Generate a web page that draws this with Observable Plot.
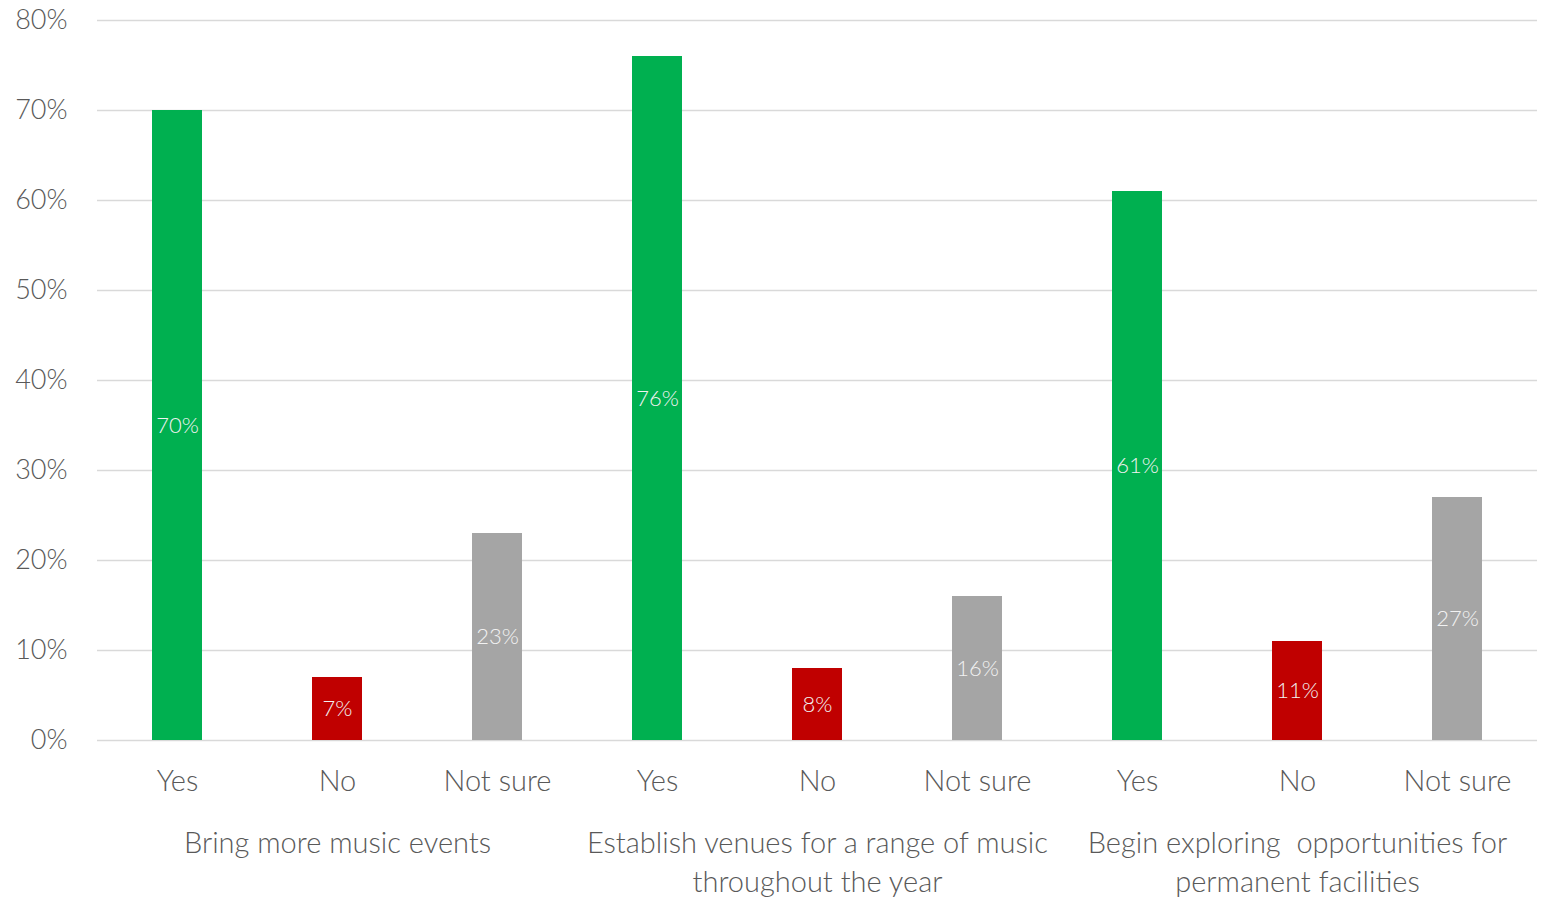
<!DOCTYPE html>
<html>
<head>
<meta charset="utf-8">
<script src="https://cdn.jsdelivr.net/npm/d3@7"></script>
<script src="https://cdn.jsdelivr.net/npm/@observablehq/plot@0.6"></script>
<style>
  html, body { margin: 0; padding: 0; background: #fff; }
  #chart svg { display: block; }
</style>
</head>
<body>
<div id="chart"></div>
<script>
// Survey proposals and the share of respondents for each answer
const groups = [
  "Bring more music events",
  "Establish venues for a range of music\nthroughout the year",
  "Begin exploring  opportunities for\npermanent facilities"
];
const answers = ["Yes", "No", "Not sure"];
const yesValues = [70, 76, 61];
const noValues = [7, 8, 11];
const notSureValues = [23, 16, 27];
const yTicks = [0, 10, 20, 30, 40, 50, 60, 70, 80];

const answerColors = {"Yes": "#00B050", "No": "#C00000", "Not sure": "#A5A5A5"};
const seriesByAnswer = {"Yes": yesValues, "No": noValues, "Not sure": notSureValues};

// One row per bar, keyed by proposal index and answer
const rows = [];
groups.forEach((g, gi) => {
  answers.forEach(a => {
    rows.push({key: `${gi}|${a}`, group: g, answer: a, value: seriesByAnswer[a][gi]});
  });
});
const keys = rows.map(d => d.key);
// The proposal title sits under its middle ("No") bar
const groupRows = groups.map((g, gi) => ({key: `${gi}|No`, label: g}));

const font = "Lato, 'Open Sans', sans-serif";
const textGray = "#595959";

const chart = Plot.plot({
  width: 1544,
  height: 898,
  marginLeft: 97,
  marginRight: 7,
  marginTop: 20,
  marginBottom: 158,
  style: {fontFamily: font, fontWeight: 300, background: "#fff"},
  x: {domain: keys, paddingInner: 0.6875, paddingOuter: 0.34375, axis: null},
  y: {domain: [0, 80], axis: null},
  marks: [
    Plot.ruleY(yTicks, {stroke: "#D9D9D9", strokeWidth: 1.5}),
    Plot.axisY({
      ticks: yTicks, tickSize: 0, tickPadding: 30, fontSize: 27, label: null,
      tickFormat: d => `${d}%`, fill: textGray, fontWeight: 300
    }),
    Plot.barY(rows, {x: "key", y: "value", fill: d => answerColors[d.answer]}),
    Plot.text(rows, {
      x: "key", y: d => d.value / 2, text: d => `${d.value}%`,
      fill: "#F2F2F2", fontSize: 22, fontWeight: 300
    }),
    Plot.text(rows, {
      x: "key", y: 0, text: "answer", dy: 41,
      fill: textGray, fontSize: 29, fontWeight: 300
    }),
    Plot.text(groupRows, {
      x: "key", y: 0, text: "label", lineAnchor: "top", dy: 85,
      lineHeight: 1.34, fill: textGray, fontSize: 29, fontWeight: 300
    })
  ]
});

document.getElementById("chart").appendChild(chart);
</script>
</body>
</html>
